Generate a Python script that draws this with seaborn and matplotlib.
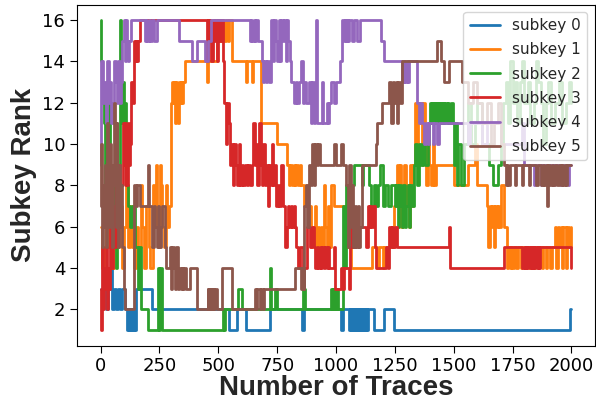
import matplotlib
matplotlib.use("Agg")
import matplotlib.pyplot as plt
import seaborn as sns
import pandas as pd

# ---- data: change points (trace index, rank) for each subkey, drawn as steps ----
sk0_t = [0,12,22,30,40,48,58,66,74,84,92,104,112,116,120,124,128,133,137,142,146,150,218,545,580,618,718,855,862,1020,1030,
         1057,1061,1065,1069,1073,1077,1081,1085,1090,1094,1098,1102,1106,1110,1114,1118,1122,1126,1130,1134,1163,1205,1248,1995,2000]
sk0_r = [3,4,2,3,4,2,3,2,3,2,3,2,1,2,1,2,1,2,1,2,1,3,2,1,2,1,2,1,2,1,2,
         1,2,1,2,1,2,1,2,1,2,1,2,1,2,1,2,1,2,1,2,1,2,1,2,2]

sk1_pts = [(0,6),(8,4),(15,5),(25,8),(32,5),(40,7),(50,4),(58,6),(66,9),(72,5),(80,7),(90,4),(100,6),(110,8),(118,5),
           (126,7),(134,5),(142,4),(150,6),(160,5),(170,8),(178,6),(186,4),(194,7),(204,5),(212,4),(222,8),(228,6),
           (234,9),(240,7),(246,5),(252,9),(256,8),(262,6),(270,5),(278,8),(284,6),(292,7),
           (300,12),(304,13),(308,12),(312,13),(316,11),(320,13),(324,12),(328,11),(332,13),(336,12),(340,13),(344,12),
           (350,13),(357,14),(450,13),(455,14),(493,15),(500,16),(505,15),(510,16),(514,15),(520,16),(526,15),(532,16),
           (540,15),(546,16),(560,14),(618,13),(624,14),(643,13),(648,14),(683,11),(750,10),
           (794,9),(800,8),(806,9),(812,8),(820,9),(826,8),(832,9),(840,8),(846,9),(853,8),(866,7),(872,8),(880,6),
           (887,7),(893,5),(899,6),(905,5),(911,7),(917,5),(923,6),(929,5),(935,6),(941,5),(947,8),(953,6),(960,5),
           (966,7),(972,5),(980,8),(990,7),(1035,6),(1045,5),(1062,4),(1155,5),(1175,4),(1182,5),(1200,4),(1205,5),
           (1245,7),(1260,9),(1266,7),(1272,9),(1278,6),(1284,8),(1290,9),(1296,7),(1302,8),(1310,6),(1316,9),(1322,7),
           (1328,9),(1335,12),(1341,10),(1347,12),(1353,11),(1359,12),(1365,9),(1371,12),(1377,10),(1383,8),(1390,10),
           (1396,9),(1402,8),(1410,10),(1418,8),(1426,9),(1500,8),(1560,9),(1590,10),(1600,8),(1640,7),(1646,5),
           (1652,7),(1658,6),(1664,7),(1670,5),(1676,7),(1682,6),(1688,7),(1694,6),(1700,8),(1715,6),(1725,4),
           (1731,5),(1737,4),(1743,5),(1749,4),(1755,5),(1766,4),(1772,5),(1784,4),(1790,5),(1802,4),(1808,5),
           (1820,4),(1826,5),(1838,4),(1844,5),(1856,4),(1862,5),(1874,4),(1880,5),(1892,4),(1898,5),(1910,4),
           (1916,5),(1930,6),(1936,4),(1942,6),(1948,5),(1954,6),(1960,4),(1966,6),(1975,4),(1982,6),(1990,5),(2000,6)]
sk1_t = [p[0] for p in sk1_pts]
sk1_r = [p[1] for p in sk1_pts]

sk2_t = [0,4,8,14,18,24,30,36,42,48,54,60,66,72,78,82,86,90,94,98,102,106,115,125,135,145,157,165,172,200,242,248,253,259,518,524,528,
         582,600,718,722,740,748,858,870,980,984,988,992,996,1000,1004,1010,1030,1036,1042,1048,1070,1076,1110,1116,1140,1148,1160,1168,
         1180,1186,1200,1210,1222,1235,1250,1256,1262,1268,1274,1280,1286,1292,1298,1304,1310,1316,1322,1330,1336,1345,1352,1360,1370,
         1380,1390,1395,1400,1404,1408,1412,1416,1420,1424,1428,1432,1436,1440,1444,1448,1452,1456,1460,1464,1470,1476,1482,1488,1495,
         1500,1505,1512,1520,1530,1545,1560,1575,1590,1600,1620,1650,1665,1690,1700,1710,1720,1730,1740,1750,1760,1770,1780,1790,1800,
         1815,1825,1840,1850,1860,1870,1880,1890,1900,1915,1930,1945,1960,1975,1990,2000]
sk2_r = [16,14,12,11,8,11,9,12,8,9,6,8,4,7,9,16,13,11,13,10,12,8,7,6,7,5,3,5,2,1,4,1,4,1,2,1,2,
         3,2,4,2,3,2,3,2,3,2,3,2,3,2,3,2,7,4,8,7,8,9,8,9,8,7,8,7,8,
         9,7,8,7,8,7,8,6,8,7,6,8,6,7,8,6,8,7,9,10,8,10,9,10,9,
         10,11,12,11,12,11,12,11,12,11,12,11,12,11,12,11,12,11,12,11,12,11,12,11,9,
         11,8,10,8,10,12,10,11,12,10,9,8,9,10,12,13,11,14,12,13,11,13,14,12,13,
         11,12,14,13,12,10,12,13,11,12,13,11,12,13,12,13]

sk3_t = [0,4,8,12,16,20,24,28,32,36,40,46,52,58,64,70,76,82,88,94,98,102,106,110,114,118,122,126,131,136,140,144,148,152,156,160,166,
         450,455,460,465,470,476,482,488,494,500,506,512,518,526,532,538,544,550,556,562,568,574,580,586,592,600,606,612,620,628,636,642,
         648,654,660,666,672,680,686,692,698,704,710,716,722,728,734,740,746,752,760,768,776,784,790,796,802,808,814,820,826,832,838,845,
         860,875,888,900,906,912,918,924,930,936,942,948,954,960,966,972,990,996,1022,1030,1036,1056,1060,1064,1068,1072,1078,1087,1128,
         1132,1136,1140,1144,1150,1158,1164,1170,1214,1220,1226,1232,1238,1244,1250,1261,1480,1486,1714,1792,1797,1802,1807,1812,1817,
         1822,1827,1832,1837,1842,1847,1852,1857,1862,1867,2000]
sk3_r = [3,1,5,2,4,3,5,2,4,3,6,4,7,5,8,6,9,7,8,11,9,11,8,10,8,11,9,10,13,12,13,15,14,15,14,15,16,
         14,16,15,16,14,16,15,16,14,16,15,16,14,12,10,12,11,9,10,8,10,9,8,10,8,9,8,9,8,9,8,9,11,9,
         10,8,11,9,8,10,8,9,7,9,8,10,8,9,7,8,7,9,7,5,6,7,6,7,6,7,6,5,4,5,4,6,
         5,6,5,4,5,4,5,4,5,4,5,4,5,4,5,3,4,3,4,3,5,6,5,6,5,6,5,5,7,
         6,7,6,7,5,4,5,4,6,5,6,5,6,5,6,4,5,4,5,4,5,4,5,4,5,
         4,5,4,5,4,5,4,5,4,5,5]

sk4_t = [0,4,10,16,22,28,34,40,46,52,58,64,70,76,82,88,93,100,104,108,112,116,122,128,187,192,198,204,212,220,226,238,335,390,410,445,
         455,470,633,638,644,650,656,662,668,684,690,696,702,708,714,726,732,738,744,750,756,762,768,774,780,786,792,798,805,811,820,828,
         836,844,852,858,866,874,887,893,899,905,911,917,921,940,945,960,966,972,980,990,1000,1015,1027,1032,1037,1042,1047,1052,1057,
         1066,1075,1090,1100,1193,1205,1282,1288,1294,1300,1306,1312,1346,1352,1358,1364,1375,1381,1390,1396,1410,1416,1430,1436,1560,
         1570,1620,1640,1700,1790,1800,1840,1846,1870,1876,1900,1906,1920,1925,1950,1956,1985,1990,2000]
sk4_r = [9,14,12,13,11,14,12,13,11,12,14,13,12,14,12,13,15,16,14,16,15,14,15,16,15,16,15,16,15,16,15,16,15,14,15,14,
         15,16,15,16,15,16,15,16,15,14,13,14,13,14,13,16,14,16,15,14,16,14,16,15,16,14,16,15,14,13,12,13,
         12,13,14,12,13,12,13,11,13,11,12,16,11,13,11,12,11,12,13,12,13,14,16,15,16,15,16,15,16,
         15,16,15,16,15,14,13,14,13,14,13,14,12,11,12,11,10,11,10,11,10,11,10,11,10,
         11,10,11,10,11,9,8,9,8,9,8,9,8,9,8,9,8,9,9]

sk5_t = [0,4,8,12,16,20,24,28,32,36,40,44,48,52,56,60,64,68,72,76,80,84,88,93,100,104,144,150,156,166,200,204,220,226,232,238,244,250,
         256,262,272,280,293,298,304,310,316,322,328,334,340,344,350,356,362,378,408,455,458,462,466,470,474,478,482,486,493,514,560,654,
         660,664,676,680,690,694,824,853,857,862,866,872,878,884,892,900,906,912,918,924,930,993,1002,1023,1028,1044,1050,1056,1062,1068,
         1074,1080,1086,1092,1098,1104,1112,1172,1176,1197,1227,1235,1241,1247,1253,1259,1265,1271,1282,1431,1445,1460,1480,1535,1560,
         1580,1600,1620,1640,1660,1670,1690,1700,1715,1720,1726,1732,1737,1760,1766,1790,1796,1820,1826,1850,1856,1872,1878,1884,1890,
         1898,1902,1910,1916,1922,1930,1940,1946,1954,1960,1966,1972,1978,1983,2000]
sk5_r = [7,10,5,8,6,9,5,11,8,6,10,7,5,9,12,8,6,11,7,5,9,6,8,5,3,2,8,7,8,7,9,7,5,7,6,5,7,5,
         6,7,5,4,5,3,5,4,3,5,3,4,3,4,3,4,3,4,2,3,2,3,2,3,2,3,2,3,2,4,2,3,
         2,3,2,3,2,3,4,3,4,3,7,8,6,9,8,10,8,10,9,10,9,10,9,10,9,8,5,9,6,8,
         5,7,5,7,5,6,9,10,11,12,13,11,13,12,13,11,13,12,14,15,14,13,14,13,12,
         13,12,11,12,10,11,12,10,9,8,9,8,9,8,9,8,9,8,9,8,9,8,9,8,9,
         7,9,8,9,8,9,8,9,8,9,8,9,8,9,9]

series_t = [sk0_t, sk1_t, sk2_t, sk3_t, sk4_t, sk5_t]
series_r = [sk0_r, sk1_r, sk2_r, sk3_r, sk4_r, sk5_r]
labels = [f"subkey {i}" for i in range(6)]

frames = []
for lab, t, r in zip(labels, series_t, series_r):
    n = min(len(t), len(r))
    frames.append(pd.DataFrame({"trace": t[:n], "rank": r[:n], "subkey": lab}))
df = pd.concat(frames, ignore_index=True)

sns.set_style("ticks")
plt.rcParams["font.family"] = ["DejaVu Sans"]

fig = plt.figure(figsize=(5.96, 4.03), dpi=100)
ax = fig.add_axes([77/596, 1-345.5/403, (595-77)/596, (345.5-4.5)/403])

palette = sns.color_palette("tab10", 6)
sns.lineplot(data=df, x="trace", y="rank", hue="subkey", hue_order=labels,
             palette=palette, estimator=None, drawstyle="steps-post",
             linewidth=2, ax=ax)

ax.set_xticks([0, 250, 500, 750, 1000, 1250, 1500, 1750, 2000])
ax.set_yticks([2, 4, 6, 8, 10, 12, 14, 16])
ax.tick_params(labelsize=13, colors="black", length=5)
for s in ax.spines.values():
    s.set_color("black")
ax.set_xlabel("Number of Traces", fontsize=20, fontweight="bold",
              family=["Liberation Sans", "DejaVu Sans"], labelpad=0)
ax.set_ylabel("Subkey Rank", fontsize=20, fontweight="bold",
              family=["Liberation Sans", "DejaVu Sans"], labelpad=4)

handles, labs = ax.get_legend_handles_labels()
ax.legend(handles, labs, loc="upper right", fontsize=11, framealpha=0.8,
          labelspacing=0.6)

fig.savefig("out.png", dpi=100)
